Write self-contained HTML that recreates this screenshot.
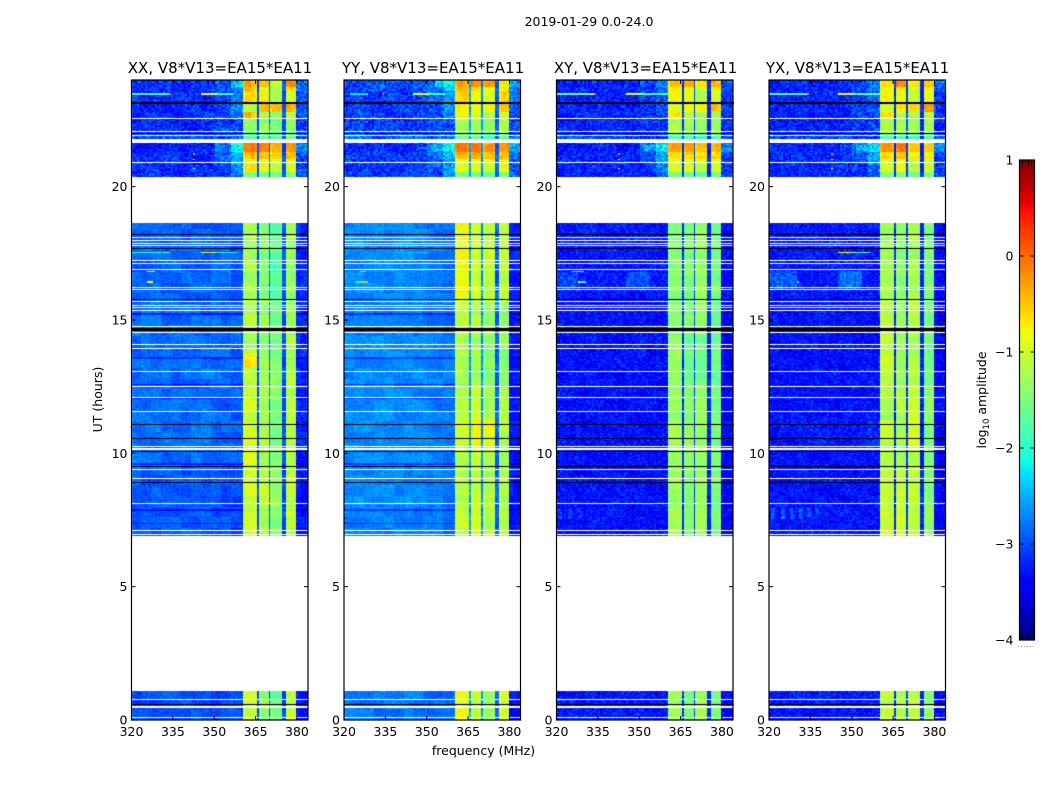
<!DOCTYPE html>
<html lang="en">
<head>
<meta charset="utf-8">
<title>2019-01-29 0.0-24.0</title>
<style>
html,body{margin:0;padding:0;background:#fff;width:1050px;height:800px;overflow:hidden}
#stage{position:relative;width:1050px;height:800px}
canvas{position:absolute;top:80px}
svg{position:absolute;left:0;top:0}
text{font-family:"DejaVu Sans","Liberation Sans",sans-serif;fill:#000}
</style>
</head>
<body>
<div id="stage">
<canvas id="c0" width="177" height="640" style="left:131px"></canvas>
<canvas id="c1" width="177" height="640" style="left:344px"></canvas>
<canvas id="c2" width="177" height="640" style="left:557px"></canvas>
<canvas id="c3" width="177" height="640" style="left:769px"></canvas>
<svg id="overlay" width="1050" height="800" xmlns="http://www.w3.org/2000/svg">
  <text x="589" y="26" text-anchor="middle" font-size="12.5">2019-01-29 0.0-24.0</text>
  <text x="220" y="73" text-anchor="middle" font-size="15">XX, V8*V13=EA15*EA11</text>
  <text x="433" y="73" text-anchor="middle" font-size="15">YY, V8*V13=EA15*EA11</text>
  <text x="645.5" y="73" text-anchor="middle" font-size="15">XY, V8*V13=EA15*EA11</text>
  <text x="857.5" y="73" text-anchor="middle" font-size="15">YX, V8*V13=EA15*EA11</text>
  <text x="483.5" y="755" text-anchor="middle" font-size="12.5">frequency (MHz)</text>
  <text transform="translate(102 399.5) rotate(-90)" text-anchor="middle" font-size="12.5">UT (hours)</text>
  <text transform="translate(986 400) rotate(-90)" text-anchor="middle" font-size="12.5">log<tspan dy="3" font-size="8.5">10</tspan><tspan dy="-3"> amplitude</tspan></text>
</svg>
</div>
<script>
// ---------- chart data ----------
const panelNames = ['xx','yy','xy','yx'];
const xTickLabels = [320,335,350,365,380];
const yTickLabels = [0,5,10,15,20];
const colorbarTickLabels = [1,0,-1,-2,-3,-4];

// frequency band edges (MHz) and the column each band reads from a row
const freqEdges = [320,350,356,360.5,365.2,365.8,369.9,370.7,375,376,380,384];
const freqBandKind = ['bg','mid','shoulder','b1','n0','b2','n1','b3','n2','b4','tail'];

// time segments with data (UT hours)
const segmentStart = [0,6.88,8.06,9.37,10.31,11.25,12.56,13.2,13.75,14.44,15.75,20.33,20.55,20.85,21.05,21.3,21.78,22.0,22.53,22.8,23.1,23.58,23.75];
const segmentEnd   = [1.09,8.06,9.37,10.31,11.25,12.56,13.2,13.75,14.44,15.75,18.66,20.55,20.85,21.05,21.3,21.63,22.0,22.53,22.8,23.1,23.58,23.75,24];

// log10 amplitude per segment: bg, mid, shoulder, band1..band4, tail
const levelsXX = [
[-3.0,-3.05,-3.05,-1.0,-1.35,-1.6,-1.1,-3.3],
[-2.95,-3.0,-3.05,-1.0,-1.2,-1.4,-1.1,-3.3],
[-2.95,-2.98,-3.0,-1.0,-1.1,-1.4,-1.1,-3.3],
[-2.85,-2.88,-2.9,-0.9,-1.25,-1.45,-1.15,-3.2],
[-2.85,-2.88,-2.9,-0.95,-1.2,-1.5,-1.15,-3.2],
[-2.85,-2.88,-2.9,-1.05,-1.3,-1.5,-1.15,-3.2],
[-2.85,-2.88,-2.9,-1.1,-1.3,-1.5,-1.2,-3.2],
[-2.85,-2.88,-2.9,-0.75,-1.3,-1.5,-1.2,-3.2],
[-2.85,-2.88,-2.9,-1.2,-1.35,-1.55,-1.25,-3.2],
[-2.85,-2.88,-2.9,-1.15,-1.35,-1.6,-1.3,-3.2],
[-2.9,-2.92,-2.95,-1.25,-1.45,-1.7,-1.35,-3.2],
[-3.2,-3.1,-2.8,-1.5,-1.5,-1.6,-1.5,-3.1],
[-3.2,-3.0,-2.7,-0.65,-0.75,-1.1,-1.0,-3.1],
[-3.2,-2.95,-2.6,-0.9,-0.95,-1.0,-0.95,-3.0],
[-3.2,-2.9,-2.5,-0.45,-0.5,-0.55,-0.5,-3.0],
[-3.3,-2.7,-2.1,-0.05,-0.05,-0.3,-0.2,-2.8],
[-3.0,-3.0,-3.0,-1.7,-1.6,-1.8,-1.6,-3.0],
[-3.2,-3.1,-3.1,-1.35,-1.35,-1.5,-1.35,-3.1],
[-3.2,-3.05,-2.9,-0.5,-1.1,-1.3,-1.2,-3.1],
[-3.2,-3.0,-2.8,-1.2,-0.5,-0.55,-0.35,-3.0],
[-3.2,-3.0,-2.8,-0.7,-0.8,-1.1,-0.9,-3.0],
[-3.2,-3.0,-2.7,-0.5,-0.8,-1.1,-0.75,-3.0],
[-3.2,-3.0,-2.5,-0.3,-0.3,-1.0,-0.25,-2.9]];
const levelsYY = [
[-2.8,-2.85,-2.85,-0.85,-1.1,-1.3,-0.95,-3.3],
[-2.75,-2.8,-2.85,-1.05,-0.95,-1.1,-1.15,-3.3],
[-2.7,-2.75,-2.8,-1.15,-1.1,-1.2,-1.25,-3.3],
[-2.7,-2.75,-2.8,-1.2,-1.1,-1.15,-1.3,-3.3],
[-2.7,-2.75,-2.8,-1.05,-0.7,-0.85,-1.2,-3.3],
[-2.7,-2.75,-2.8,-1.15,-1.0,-1.25,-1.2,-3.3],
[-2.7,-2.75,-2.8,-1.25,-1.25,-1.4,-1.4,-3.3],
[-2.7,-2.75,-2.8,-1.25,-1.25,-1.4,-1.4,-3.3],
[-2.7,-2.75,-2.8,-1.25,-1.25,-1.4,-1.4,-3.3],
[-2.75,-2.8,-2.85,-1.1,-1.2,-1.3,-1.35,-3.3],
[-2.7,-2.78,-2.85,-0.8,-1.0,-1.1,-1.1,-3.25],
[-3.1,-3.0,-2.7,-1.5,-1.5,-1.55,-1.5,-3.0],
[-3.1,-2.95,-2.6,-0.9,-0.9,-1.0,-0.9,-3.0],
[-3.1,-2.9,-2.55,-0.75,-0.75,-0.85,-0.8,-2.9],
[-3.1,-2.85,-2.4,-0.4,-0.4,-0.55,-0.5,-2.8],
[-3.2,-2.7,-2.1,-0.05,-0.1,-0.25,-0.2,-2.6],
[-2.9,-2.9,-2.9,-1.6,-1.55,-1.7,-1.6,-3.0],
[-3.1,-3.0,-2.95,-1.2,-1.3,-1.4,-1.2,-3.0],
[-3.1,-2.95,-2.8,-0.8,-0.95,-1.1,-0.95,-3.0],
[-3.1,-2.95,-2.7,-0.7,-0.7,-0.8,-0.55,-2.9],
[-3.1,-2.9,-2.6,-0.5,-0.8,-1.0,-0.6,-2.8],
[-3.05,-2.9,-2.5,-0.5,-0.6,-0.9,-0.7,-2.7],
[-3.0,-2.85,-2.2,-0.35,-0.1,-0.25,-0.7,-2.6]];
const levelsXY = [
[-3.3,-3.3,-3.3,-1.3,-1.5,-1.25,-1.5,-3.4],
[-3.35,-3.35,-3.35,-1.25,-1.45,-1.3,-1.5,-3.45],
[-3.35,-3.35,-3.35,-1.3,-1.45,-1.3,-1.5,-3.45],
[-3.35,-3.35,-3.35,-1.35,-1.45,-1.35,-1.5,-3.45],
[-3.35,-3.35,-3.35,-1.25,-1.35,-1.3,-1.5,-3.45],
[-3.35,-3.35,-3.35,-1.35,-1.45,-1.35,-1.55,-3.45],
[-3.35,-3.35,-3.35,-1.35,-1.6,-1.6,-1.6,-3.45],
[-3.35,-3.35,-3.35,-1.3,-1.55,-1.6,-1.55,-3.45],
[-3.35,-3.35,-3.35,-1.35,-1.6,-1.6,-1.6,-3.45],
[-3.35,-3.35,-3.35,-1.45,-1.5,-1.4,-1.6,-3.45],
[-3.3,-3.3,-3.3,-1.45,-1.5,-1.35,-1.55,-3.4],
[-3.3,-3.2,-2.95,-1.55,-1.55,-1.6,-1.55,-3.1],
[-3.25,-3.1,-2.8,-0.95,-0.9,-1.1,-1.0,-3.1],
[-3.25,-3.05,-2.7,-0.85,-0.9,-1.0,-0.95,-3.1],
[-3.25,-3.05,-2.6,-0.55,-0.6,-0.7,-0.65,-3.0],
[-3.3,-2.9,-2.3,-0.25,-0.35,-0.45,-0.45,-2.8],
[-3.1,-3.1,-3.1,-1.8,-1.75,-1.8,-1.75,-3.1],
[-3.25,-3.2,-3.15,-1.2,-1.3,-1.4,-1.3,-3.2],
[-3.25,-3.15,-3.0,-0.65,-1.2,-1.3,-1.25,-3.2],
[-3.25,-3.15,-3.0,-0.95,-0.75,-0.8,-0.5,-3.1],
[-3.25,-3.1,-2.95,-0.8,-0.9,-1.15,-0.9,-3.1],
[-3.25,-3.1,-2.85,-0.75,-0.8,-1.0,-0.8,-3.1],
[-3.25,-3.05,-2.7,-0.45,-0.4,-0.65,-0.45,-3.0]];
const levelsYX = [
[-3.3,-3.3,-3.3,-1.1,-1.25,-1.1,-1.4,-3.4],
[-3.3,-3.35,-3.35,-1.05,-1.0,-1.1,-1.35,-3.45],
[-3.35,-3.35,-3.35,-1.1,-1.1,-1.15,-1.5,-3.45],
[-3.35,-3.35,-3.35,-1.15,-1.25,-1.15,-1.45,-3.45],
[-3.3,-3.3,-3.25,-1.05,-1.25,-0.95,-1.5,-3.45],
[-3.35,-3.35,-3.35,-1.25,-1.2,-1.05,-1.4,-3.45],
[-3.35,-3.35,-3.35,-1.1,-1.3,-1.2,-1.55,-3.45],
[-3.35,-3.35,-3.35,-1.05,-1.3,-1.2,-1.55,-3.45],
[-3.35,-3.35,-3.35,-1.1,-1.3,-1.2,-1.55,-3.45],
[-3.35,-3.35,-3.35,-1.15,-1.3,-1.15,-1.55,-3.45],
[-3.3,-3.3,-3.3,-1.3,-1.4,-1.25,-1.5,-3.4],
[-3.25,-3.15,-2.95,-1.5,-1.5,-1.55,-1.5,-3.1],
[-3.2,-3.05,-2.8,-0.95,-0.85,-1.1,-1.0,-3.1],
[-3.2,-3.05,-2.7,-0.9,-0.85,-1.05,-1.0,-3.1],
[-3.2,-3.0,-2.6,-0.55,-0.5,-0.75,-0.7,-3.0],
[-3.25,-2.85,-2.25,-0.2,-0.15,-0.5,-0.55,-2.8],
[-3.1,-3.1,-3.1,-1.75,-1.7,-1.8,-1.75,-3.1],
[-3.25,-3.15,-3.1,-1.2,-1.3,-1.35,-1.25,-3.2],
[-3.25,-3.1,-3.0,-0.6,-1.2,-1.3,-1.2,-3.2],
[-3.25,-3.1,-3.0,-1.0,-0.7,-0.7,-0.35,-3.1],
[-3.25,-3.1,-2.95,-0.8,-0.85,-1.1,-0.8,-3.1],
[-3.25,-3.1,-2.85,-0.8,-0.7,-1.0,-0.75,-3.0],
[-3.25,-3.05,-2.7,-0.7,-0.2,-0.7,-0.55,-2.9]];
const panelLevels = [levelsXX,levelsYY,levelsXY,levelsYX];

// narrow low-level channels per panel (log10 amplitude)
const notchXX = [-3.0,-2.9,-3.0];
const notchYY = [-2.55,-2.65,-2.9];
const notchXY = [-3.15,-3.1,-3.2];
const notchYX = [-3.2,-3.1,-3.2];
const panelNotches = [notchXX,notchYY,notchXY,notchYX];

// flagged integrations: [center UT, width hours]
const whiteFlagsUT = [[0.10,0.05],[0.48,0.08],[0.78,0.05],[6.97,0.05],[7.12,0.05],[8.13,0.05],[9.05,0.05],[9.40,0.05],[10.15,0.09],[10.27,0.05],[11.57,0.05],[12.10,0.05],[12.51,0.05],[13.07,0.05],[13.94,0.05],[14.09,0.05],[14.55,0.05],[14.75,0.05],[15.36,0.05],[15.46,0.05],[15.56,0.05],[15.71,0.05],[16.16,0.05],[16.21,0.05],[16.90,0.05],[17.11,0.05],[17.22,0.05],[17.78,0.05],[17.87,0.05],[17.97,0.05],[18.10,0.05],[20.89,0.05],[21.93,0.05],[22.07,0.05],[22.56,0.05]];
const blackFlagsUT = [[0.60,0.05],[8.89,0.05],[9.50,0.05],[10.07,0.05],[10.56,0.05],[11.09,0.05],[14.64,0.16],[15.77,0.05],[17.69,0.07],[18.22,0.05],[22.0,0.05],[23.15,0.11]];

// low-amplitude rows seen in XX and YY (UT hours) and their drop
const dimRowsUT = [7.4,7.87,8.4,9.59,9.62,11.6,12.06,12.56,13.58,15.22];
const dimRowDrop = [0.4,0.4,0,0];

// bright narrow features per panel: [utStart, utEnd, fStart, fEnd, level]
const patchesXX = [[23.47,23.52,320,333.5,-1.7],[23.47,23.52,333.5,334.5,0.1],[23.47,23.52,345.3,351,-0.8],[23.47,23.52,351,357,-1.8],[17.5,17.56,320,333.5,-2.1],[17.5,17.56,333.5,334.5,0.1],[17.5,17.56,345.3,351,-0.8],[17.5,17.56,351,358,-2.1],[16.8,16.86,326,329,-0.8],[16.38,16.43,326,328,-0.8],[21.2,21.25,342,343,-0.3],[21.0,21.05,342,343,-0.9],[20.65,20.7,342,343,-1.0]];
const patchesYY = [[23.47,23.52,322,329,-2.2],[23.47,23.52,333.5,334.5,0.1],[23.47,23.52,345.3,351,-0.8],[23.47,23.52,351,357,-1.8],[17.5,17.56,345,351,-2.4],[16.38,16.43,324,329,-2.0],[16.38,16.43,326.5,328,-0.4],[16.81,16.86,326,328,-1.8],[23.75,24,353,356,-2.4],[21.35,21.55,352,356,-2.5],[21.4,21.5,347,352,-2.75]];
const patchesXY = [[23.47,23.52,320,333.5,-1.5],[23.47,23.52,333.5,334.5,-0.1],[23.47,23.52,345.3,351,-0.8],[23.47,23.52,351,360.5,-1.7],[16.38,16.43,325,331,-1.9],[16.38,16.43,327,329,-0.8],[16.81,16.86,326,330,-2.1],[16.15,16.8,345,354,-3.0],[16.15,16.8,320,328,-3.05],[21.35,21.55,352,356,-2.6],[21.2,21.25,342,343,-0.2],[21.0,21.05,342,343,-0.7],[20.65,20.7,342,343,-0.9],[7.57,7.95,321,322.5,-3.1],[7.57,7.95,324.5,326,-3.1],[7.57,7.95,328,329.5,-3.1]];
const patchesYX = [[23.47,23.52,320,333.5,-1.7],[23.47,23.52,333.5,334.5,-0.1],[23.47,23.52,345.3,351,-0.8],[23.47,23.52,351,360.5,-1.6],[17.5,17.56,345.3,351,-0.8],[17.5,17.56,351,357,-1.9],[16.38,16.43,326,331,-2.0],[16.38,16.43,328,329.5,0.1],[16.81,16.86,326,330,-2.0],[16.15,16.85,345,354,-2.85],[16.15,16.85,320,330,-2.95],[21.35,21.55,352,356,-2.5],[21.2,21.25,342,343,-0.2],[21.0,21.05,342,343,-0.7],[20.65,20.7,342,343,-0.9],[7.57,7.95,321,322.2,-2.9],[7.57,7.95,324.5,325.7,-2.9],[7.57,7.95,327.8,329,-2.9],[7.57,7.95,331,332.2,-2.95],[7.57,7.95,334,335.2,-3.0],[7.57,7.95,336.5,337.7,-3.05]];
const panelPatches = [patchesXX,patchesYY,patchesXY,patchesYX];

// small hand-typed texture tile for the pixel noise, plus its strength per panel
const speckleTile = [0.3,-0.7,0.9,-0.2,0.5,-1,0.1,0.7,-0.4,0.2,-0.8,0.6,-0.1,1,-0.5,0.4,-0.9,0.2,0.8,-0.3,-0.6,0.5,-0.2,0.9,-0.7,0.1,0.4,-1,0.6,-0.3,0.8,-0.5,0.2,-0.1,0.7,-0.9,0.3,1,-0.4,-0.8,0.5,0.1,-0.6,0.9,-0.2,0.4,-0.7,0.6,-0.1,0.3,-1,0.8,-0.5,0.2,0.7,-0.3,-0.9,0.5,0.1,-0.6,1,-0.4,0.3,-0.8,0.6,-0.2,0.9,-0.7,0.4,-0.1,0.2,-0.5,0.8,-1,0.3,0.6,-0.3,0.1,-0.8,0.7,-0.4,0.5,-0.6,0.9,-0.2,0.2,-0.9,0.4,-0.1,0.7,-0.5,0.3,0.8,-0.7,0.1,-0.3,0.6];
const speckleLow = [0.14,0.12,0.28,0.28];
const speckleHigh = [0.34,0.34,0.34,0.34];
const speckleBand = [0.12,0.12,0.12,0.12];
const blotchStrength = [0.12,0.1,0.08,0.08];
const hotEdgeDrop = 0.14;

// ---------- axis functions ----------
const panelLeft = [131.5,344,556.5,769];
const panelWidth = 176.5;
const plotTop = 80, plotBottom = 720;
const freqMin = 320, freqMax = 384, utMin = 0, utMax = 24;
const rowHours = 0.05, colMHz = 0.72;
function xScale(p, f){ return panelLeft[p] + (f - freqMin) / (freqMax - freqMin) * panelWidth; }
function yScale(ut){ return plotBottom - (ut - utMin) / (utMax - utMin) * (plotBottom - plotTop); }

function jetChannel(stops, n){
  for (let i = 1; i < stops.length; i++){
    if (n <= stops[i][0]){
      const a = stops[i-1], b = stops[i];
      return a[1] + (b[1]-a[1]) * (n-a[0]) / (b[0]-a[0]);
    }
  }
  return stops[stops.length-1][1];
}
const jetR = [[0,0],[0.35,0],[0.66,1],[0.89,1],[1,0.5]];
const jetG = [[0,0],[0.125,0],[0.375,1],[0.64,1],[0.91,0],[1,0]];
const jetB = [[0,0.5],[0.11,1],[0.34,1],[0.65,0],[1,0]];
function colorOf(v){
  const n = Math.max(0, Math.min(1, (v + 4) / 5));
  const r = Math.round(255 * jetChannel(jetR, n));
  const g = Math.round(255 * jetChannel(jetG, n));
  const b = Math.round(255 * jetChannel(jetB, n));
  return 'rgb(' + r + ',' + g + ',' + b + ')';
}
function levelAt(p, seg, f){
  let band = freqEdges.length - 2;
  for (let i = 0; i < freqEdges.length - 1; i++){ if (f < freqEdges[i+1]) { band = i; break; } }
  const kind = freqBandKind[band];
  if (kind.charAt(0) === 'n') return { v: panelNotches[p][+kind.charAt(1)], kind: 'notch', edge: 99 };
  const order = ['bg','mid','shoulder','b1','b2','b3','b4','tail'];
  const idx = order.indexOf(kind);
  const edge = Math.min(f - freqEdges[band], freqEdges[band+1] - f);
  return { v: panelLevels[p][seg][idx], kind: (idx >= 3 && idx <= 6) ? 'band' : 'bg', edge: edge };
}

// ---------- heatmaps ----------
function drawPanel(p){
  const canvas = document.getElementById('c' + p);
  const ctx = canvas.getContext('2d');
  const originX = parseInt(canvas.style.left, 10);
  const nRows = Math.round((utMax - utMin) / rowHours);
  const nCols = Math.round((freqMax - freqMin) / colMHz);
  const tileLen = speckleTile.length;
  for (let r = 0; r < nRows; r++){
    const ut0 = utMin + r * rowHours, ut1 = ut0 + rowHours, utc = ut0 + rowHours / 2;
    let seg = -1;
    for (let s = 0; s < segmentStart.length; s++){ if (utc >= segmentStart[s] && utc < segmentEnd[s]) { seg = s; break; } }
    if (seg < 0) continue;
    const y0 = Math.round(yScale(ut1)) - plotTop;
    const y1 = Math.round(yScale(ut0)) - plotTop;
    const rowShift = Math.round((speckleTile[(r + p * 17) % tileLen] + 1) * 37);
    const bandRow = 0.05 * speckleTile[(Math.floor(r / 3) * 7 + p * 11) % tileLen];
    let drop = 0;
    for (let d = 0; d < dimRowsUT.length; d++){ if (Math.abs(dimRowsUT[d] - utc) <= rowHours / 2) drop = dimRowDrop[p]; }
    for (let c = 0; c < nCols; c++){
      const f0 = freqMin + c * colMHz, f1 = f0 + colMHz, fc = f0 + colMHz / 2;
      const cell = levelAt(p, seg, fc);
      const inBand = cell.kind === 'band' || cell.kind === 'notch';
      const strength = inBand ? speckleBand[p] : (seg >= 11 ? speckleHigh[p] : speckleLow[p]);
      const fine = speckleTile[(r * 13 + c * 29 + rowShift * (c % 7 + 1)) % tileLen];
      const coarse = speckleTile[(Math.floor(r / 8) * 5 + Math.floor(c / 5) * 11 + p * 23) % tileLen];
      let v = cell.v + strength * fine + blotchStrength[p] * coarse - (inBand ? drop * 0.25 : drop);
      if (inBand) v += bandRow;
      if (cell.kind === 'band' && seg >= 11 && cell.edge < 0.5) v -= hotEdgeDrop;
      const patches = panelPatches[p];
      for (let k = 0; k < patches.length; k++){
        const q = patches[k];
        if (utc >= q[0] && utc < q[1] && fc >= q[2] && fc < q[3] && !inBand) {
          v = (q[1] - q[0] > 0.1) ? q[4] + strength * fine : q[4];
        }
      }
      const x0 = Math.round(xScale(p, f0)) - originX;
      const x1 = Math.round(xScale(p, f1)) - originX;
      ctx.fillStyle = colorOf(v);
      ctx.fillRect(x0, y0, x1 - x0, y1 - y0);
    }
  }
  function flagLines(list, color){
    ctx.fillStyle = color;
    list.forEach(function(item){
      const half = item[1] * 0.375;
      const y0 = Math.round(yScale(item[0] + half)) - plotTop;
      const h = Math.max(1, Math.round(yScale(item[0] - half)) - plotTop - y0);
      ctx.fillRect(0, y0, canvas.width, h);
    });
  }
  flagLines(whiteFlagsUT, '#fff');
  flagLines(blackFlagsUT, '#000');
}
[0,1,2,3].forEach(drawPanel);

// ---------- axes ----------
const SVGNS = 'http://www.w3.org/2000/svg';
const overlay = document.getElementById('overlay');
function line(x1, y1, x2, y2, name, width){
  const el = document.createElementNS(SVGNS, 'line');
  el.setAttribute('x1', x1);
  el.setAttribute('y1', y1);
  el.setAttribute('x2', x2);
  el.setAttribute('y2', y2);
  el.setAttribute('stroke', '#000');
  el.setAttribute('stroke-width', width || 1);
  
  
  overlay.appendChild(el);
  return el;
}
function label(x, y, str, anchor, name){
  const el = document.createElementNS(SVGNS, 'text');
  el.setAttribute('x', x);
  el.setAttribute('y', y);
  el.setAttribute('text-anchor', anchor);
  el.setAttribute('font-size', '12.5');
  el.textContent = str;
  
  
  overlay.appendChild(el);
  return el;
}
function frame(x, y, w, h, name){
  const el = document.createElementNS(SVGNS, 'rect');
  el.setAttribute('x', x);
  el.setAttribute('y', y);
  el.setAttribute('width', w);
  el.setAttribute('height', h);
  el.setAttribute('fill', 'none');
  el.setAttribute('stroke', '#000');
  el.setAttribute('stroke-width', '1.2');
  
  
  overlay.appendChild(el);
}
panelNames.forEach(function(name, p){
  const left = panelLeft[p], right = left + panelWidth;
  frame(left, plotTop, panelWidth, plotBottom - plotTop, 'axes-frame-' + name);
  xTickLabels.forEach(function(t){
    const x = xScale(p, t);
    line(x, plotBottom, x, plotBottom - 4, 'x-tick-' + name + '-' + t);
    line(x, plotTop, x, plotTop + 4, 'x-tick-top-' + name + '-' + t);
    label(x, plotBottom + 16, String(t), 'middle', 'x-tick-label-' + name + '-' + t);
  });
  yTickLabels.forEach(function(t){
    const y = yScale(t);
    line(left, y, left + 4, y, 'y-tick-' + name + '-' + t);
    line(right, y, right - 4, y, 'y-tick-right-' + name + '-' + t);
    label(left - 4, y + 4.5, String(t), 'end', 'y-tick-label-' + name + '-' + t);
  });
});

// ---------- colorbar ----------
const cbLeft = 1019.5, cbWidth = 15, cbTop = 160, cbBottom = 640, cbMax = 1, cbMin = -4;
function cbY(v){ return cbTop + (cbMax - v) / (cbMax - cbMin) * (cbBottom - cbTop); }
for (let py = cbTop; py < cbBottom; py += 2){
  const el = document.createElementNS(SVGNS, 'rect');
  const v = cbMax - (py + 1 - cbTop) / (cbBottom - cbTop) * (cbMax - cbMin);
  el.setAttribute('x', cbLeft);
  el.setAttribute('y', py);
  el.setAttribute('width', cbWidth);
  el.setAttribute('height', 2.2);
  el.setAttribute('fill', colorOf(v));
  
  
  overlay.appendChild(el);
}
frame(cbLeft, cbTop, cbWidth, cbBottom - cbTop, 'colorbar-frame');
colorbarTickLabels.forEach(function(t){
  const y = cbY(t);
  const str = t < 0 ? '\u2212' + Math.abs(t) : String(t);
  line(cbLeft, y, cbLeft + 4, y, 'colorbar-tick-left');
  line(cbLeft + cbWidth, y, cbLeft + cbWidth - 4, y, 'colorbar-tick-right');
  label(cbLeft - 6, y + 4.5, str, 'end', 'colorbar-tick-label');
});
[3,6,9,12].forEach(function(dx){
  line(cbLeft + dx, cbTop, cbLeft + dx, cbTop + 6, 'colorbar-minor-tick-top');
  line(cbLeft + dx, cbBottom, cbLeft + dx, cbBottom - 6, 'colorbar-minor-tick-bottom');
});
[0,3,6,9,12,15].forEach(function(dx){
  const el = document.createElementNS(SVGNS, 'rect');
  el.setAttribute('x', 1018 + dx);
  el.setAttribute('y', 646);
  el.setAttribute('width', 1);
  el.setAttribute('height', 1);
  el.setAttribute('fill', '#999');
  
  
  overlay.appendChild(el);
});
</script>
</body>
</html>
